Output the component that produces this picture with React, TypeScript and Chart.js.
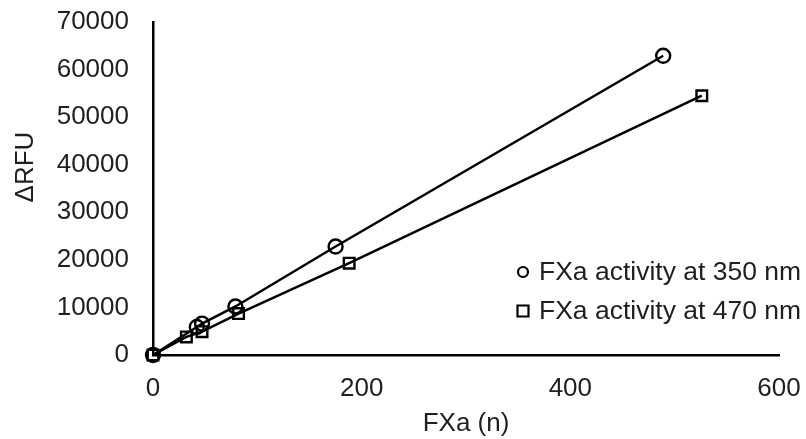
import React, { useEffect, useRef } from "react";
import { Chart, registerables } from "chart.js";

Chart.register(...registerables);

// FXa amount (n) and ΔRFU readings for each emission wavelength
const fxa350 = [0, 42, 47, 79, 175, 489];
const rfu350 = [0, 5900, 6600, 10200, 22800, 62900];
const fxa470 = [0, 32, 47, 82, 188, 526];
const rfu470 = [0, 3800, 4900, 8700, 19300, 54500];

const seriesLabels = ["FXa activity at 350 nm", "FXa activity at 470 nm"];
const seriesMarkers = ["circle", "rect"];

const xTicks = [0, 200, 400, 600];
const yTicks = [0, 10000, 20000, 30000, 40000, 50000, 60000, 70000];

const xTitle = "FXa (n)";
const yTitle = "ΔRFU";

const FONT = "'Liberation Sans', Arial, sans-serif";
const TEXT = "#1f1f1f";
const SIZE = 26;

const toPoints = (xs: number[], ys: number[]) => xs.map((x, i) => ({ x, y: ys[i] }));

// Legend drawn inside the plot area, lower right, plus the rotated y title
const overlayPlugin = {
  id: "overlay",
  afterDraw(chart: any) {
    const ctx = chart.ctx as CanvasRenderingContext2D;
    ctx.save();
    ctx.fillStyle = TEXT;
    ctx.font = `26.5px ${FONT}`;
    ctx.textBaseline = "middle";
    const rows = [272, 311];
    seriesLabels.forEach((label, i) => {
      const y = rows[i];
      const mx = 523;
      ctx.strokeStyle = "#000";
      ctx.lineWidth = 2.2;
      ctx.beginPath();
      if (seriesMarkers[i] === "circle") {
        ctx.arc(mx, y, 5, 0, Math.PI * 2);
      } else {
        ctx.rect(mx - 5.5, y - 5.5, 11, 11);
      }
      ctx.stroke();
      ctx.textAlign = "left";
      ctx.fillText(label, 539, y + 1);
    });
    ctx.font = `${SIZE}px ${FONT}`;
    ctx.translate(25, 167);
    ctx.rotate(-Math.PI / 2);
    ctx.textAlign = "center";
    ctx.fillText(yTitle, 0, 1);
    ctx.restore();
  },
};

export default function App() {
  const canvasRef = useRef<HTMLCanvasElement>(null);

  useEffect(() => {
    if (!canvasRef.current) return;
    const chart = new Chart(canvasRef.current, {
      type: "scatter",
      data: {
        datasets: [
          {
            label: seriesLabels[0],
            data: toPoints(fxa350, rfu350),
            showLine: true,
            borderColor: "#000",
            borderWidth: 2.5,
            pointStyle: "circle",
            pointRadius: 7,
            pointBorderWidth: 2.4,
            pointBorderColor: "#000",
            pointBackgroundColor: "rgba(0,0,0,0)",
            clip: false,
          },
          {
            label: seriesLabels[1],
            data: toPoints(fxa470, rfu470),
            showLine: true,
            borderColor: "#000",
            borderWidth: 2.5,
            pointStyle: "rect",
            pointRadius: 7.5,
            pointBorderWidth: 2.4,
            pointBorderColor: "#000",
            pointBackgroundColor: "rgba(0,0,0,0)",
            clip: false,
          },
        ],
      },
      options: {
        responsive: false,
        animation: false,
        layout: { padding: { top: 22, right: 27, left: 0, bottom: 0 } },
        plugins: {
          legend: { display: false },
          tooltip: { enabled: false },
        },
        scales: {
          x: {
            type: "linear",
            min: 0,
            max: 600,
            afterBuildTicks: (scale: any) => {
              scale.ticks = xTicks.map((v) => ({ value: v }));
            },
            afterFit: (scale: any) => {
              scale.height = 84;
              scale.paddingLeft = 0;
              scale.paddingRight = 0;
            },
            grid: { display: false, drawTicks: false },
            border: { display: true, color: "#000", width: 2.5 },
            ticks: {
              color: TEXT,
              font: { family: FONT, size: SIZE },
              padding: 18,
              maxRotation: 0,
            },
            title: {
              display: true,
              text: xTitle,
              color: TEXT,
              font: { family: FONT, size: SIZE },
              padding: { top: 0, bottom: 0 },
            },
          },
          y: {
            type: "linear",
            min: 0,
            max: 70000,
            afterBuildTicks: (scale: any) => {
              scale.ticks = yTicks.map((v) => ({ value: v }));
            },
            afterFit: (scale: any) => {
              scale.width = 153;
              scale.paddingTop = 0;
              scale.paddingBottom = 0;
            },
            grid: { display: false, drawTicks: false },
            border: { display: true, color: "#000", width: 2.5 },
            ticks: {
              color: TEXT,
              font: { family: FONT, size: SIZE },
              padding: 24,
              callback: (v: any) => String(v),
            },
          },
        },
      },
      plugins: [overlayPlugin],
    });
    return () => chart.destroy();
  }, []);

  return (
    <div style={{ position: "absolute", left: 0, top: 0, width: 806, height: 439, background: "#fff" }}>
      <canvas ref={canvasRef} width={806} height={439} style={{ display: "block" }} />
    </div>
  );
}
